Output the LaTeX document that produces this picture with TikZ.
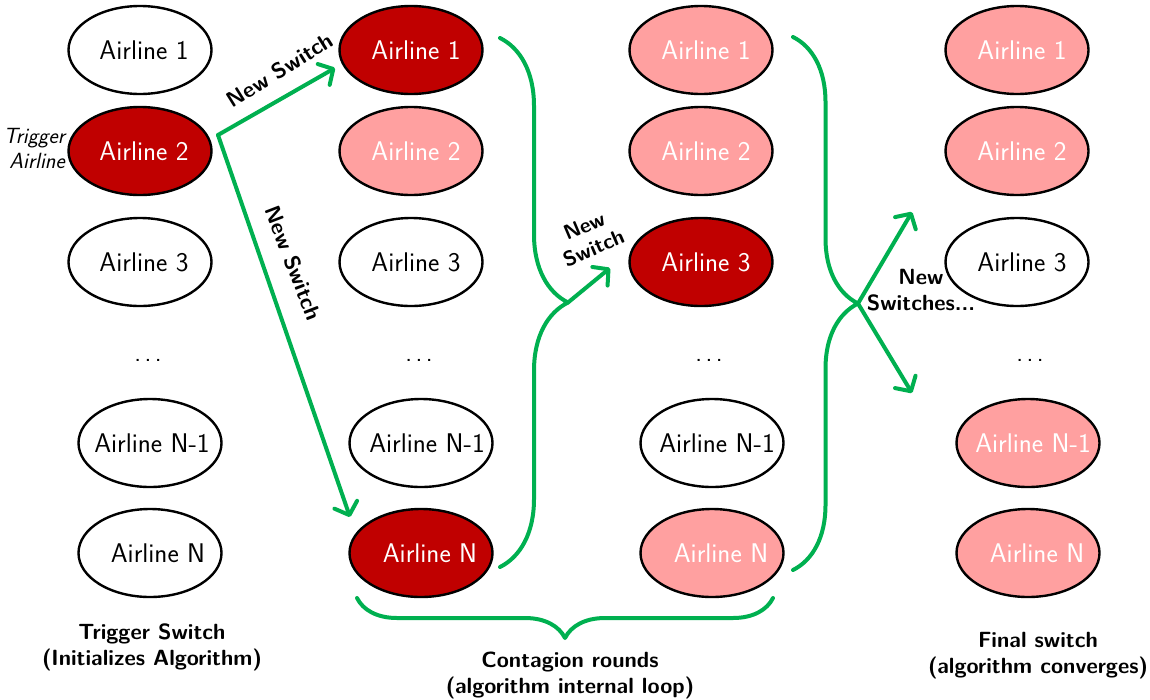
\documentclass[tikz,border=0pt]{standalone}
\usepackage{fontspec}
\usetikzlibrary{arrows.meta,decorations.pathreplacing,shapes.geometric}
\definecolor{darkred}{RGB}{192,0,0}
\definecolor{pinkfill}{RGB}{255,160,160}
\definecolor{switchgreen}{RGB}{0,176,80}
% three spaced dots for the elided rows
\newcommand{\gapdots}{.\hspace{3.5pt}.\hspace{3.5pt}.}
% airline name, nudged right by half of #1, without widening the ellipse
\newcommand{\al}[2]{\makebox[0pt]{\hspace*{#1}#2}}
\begin{document}
\begin{tikzpicture}[x=1pt,y=-1pt,
  airline/.style={ellipse,draw=black,line width=2.4pt,minimum width=143pt,
    minimum height=88pt,inner sep=0pt,font=\fontsize{27}{31}\selectfont\sffamily},
  quiet/.style={airline,fill=white,text=black},
  hit/.style={airline,fill=darkred,text=white},
  past/.style={airline,fill=pinkfill,text=white},
  gap/.style={inner sep=0pt,font=\fontsize{26}{30}\selectfont\sffamily},
  tag/.style={inner sep=0pt,align=center,font=\fontsize{22}{26}\selectfont\sffamily\bfseries},
  flow/.style={draw=switchgreen,line width=4pt,line cap=round,line join=round},
  spread/.style={flow,-{Straight Barb[length=11pt,width=24pt,round]}},
  curly/.style={flow,decorate,decoration={brace,amplitude=#1}},
]
\useasboundingbox (0,0) rectangle (1150,699);

% column 1: trigger switch
\node[quiet] (c1a1) at (140,50)  {\al{8pt}{Airline 1}};
\node[hit]   (c1a2) at (140,151) {\al{8pt}{Airline 2}};
\node[quiet] (c1a3) at (140,262) {\al{8pt}{Airline 3}};
\node[gap]   (c1d)  at (148,360) {\gapdots};
\node[quiet] (c1n1) at (150,443) {\al{4pt}{Airline N-1}};
\node[quiet] (c1n)  at (150,553) {\al{16pt}{Airline N}};
\node[inner sep=0pt,anchor=east,align=right,font=\fontsize{22}{25}\selectfont\sffamily\itshape]
  (trig) at (65,148) {Trigger\\Airline};

% column 2: first contagion round
\node[hit]   (c2a1) at (411,50)  {\al{10pt}{Airline 1}};
\node[past]  (c2a2) at (411,151) {\al{10pt}{Airline 2}};
\node[quiet] (c2a3) at (411,262) {\al{10pt}{Airline 3}};
\node[gap]   (c2d)  at (419,360) {\gapdots};
\node[quiet] (c2n1) at (421,443) {\al{12pt}{Airline N-1}};
\node[hit]   (c2n)  at (421,553) {\al{18pt}{Airline N}};

% column 3: second contagion round
\node[past]  (c3a1) at (701,50)  {\al{10pt}{Airline 1}};
\node[past]  (c3a2) at (701,151) {\al{10pt}{Airline 2}};
\node[hit]   (c3a3) at (701,262) {\al{10pt}{Airline 3}};
\node[gap]   (c3d)  at (709,360) {\gapdots};
\node[quiet] (c3n1) at (712,443) {\al{10pt}{Airline N-1}};
\node[past]  (c3n)  at (712,553) {\al{18pt}{Airline N}};

% column 4: final switch
\node[past]  (c4a1) at (1017,50)  {\al{10pt}{Airline 1}};
\node[past]  (c4a2) at (1017,151) {\al{10pt}{Airline 2}};
\node[quiet] (c4a3) at (1017,262) {\al{10pt}{Airline 3}};
\node[gap]   (c4d)  at (1030,360) {\gapdots};
\node[past]  (c4n1) at (1028,443) {\al{10pt}{Airline N-1}};
\node[past]  (c4n)  at (1028,553) {\al{18pt}{Airline N}};

% trigger switch arrows
\coordinate (fork) at (218,135);
\coordinate (toA1) at (335,68);
\coordinate (toAN) at (350,517);
\draw[spread] (fork) -- (toA1);
\draw[spread] (fork) -- (toAN);
\node[tag,rotate=32] (ns1) at (280,70) {New Switch};
\node[tag,rotate=-69] (ns2) at (293,263) {New Switch};

% first round: gather column 2, switch airline 3
\coordinate (g1top) at (500,38);
\coordinate (g1bot) at (500,567);
\coordinate (hub1) at (568,302.5);
\coordinate (toA3) at (610,268);
\draw[curly=68pt] (g1top) -- (g1bot);
\draw[spread] (hub1) -- (toA3);
\node[tag,rotate=23,font=\fontsize{21}{24}\selectfont\sffamily\bfseries] (ns3) at (589,237) {New\\Switch};

% second round: gather column 3, further switches
\coordinate (g2top) at (793,37);
\coordinate (g2bot) at (793,570);
\coordinate (hub2) at (858,303.5);
\coordinate (up) at (912,212);
\coordinate (down) at (912,393);
\draw[curly=65pt] (g2top) -- (g2bot);
\draw[spread] (hub2) -- (up);
\draw[spread] (hub2) -- (down);
\node[tag] (ns4) at (921,290) {New\\Switches...};

% internal loop brace
\coordinate (loopR) at (773,598);
\coordinate (loopL) at (357,598);
\draw[curly=40pt] (loopR) -- (loopL);

% captions
\node[tag] (cap1) at (152,647) {Trigger Switch\\(Initializes Algorithm)};
\node[tag] (cap2) at (570,675) {Contagion rounds\\(algorithm internal loop)};
\node[tag] (cap3) at (1038,656) {Final switch\\(algorithm converges)};
\end{tikzpicture}
\end{document}
